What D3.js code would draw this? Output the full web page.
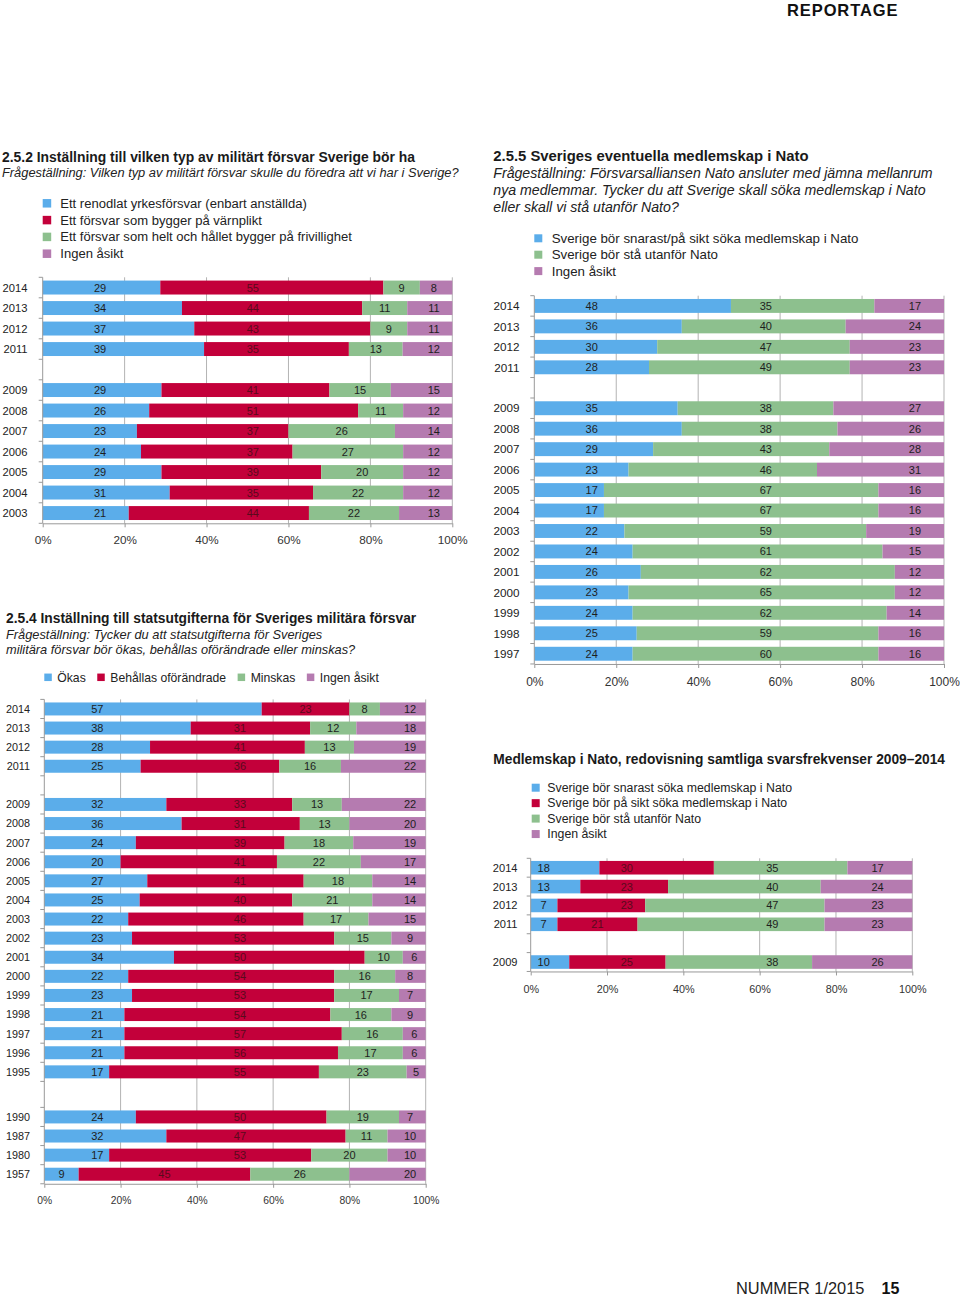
<!DOCTYPE html>
<html><head><meta charset="utf-8">
<script src="https://cdn.jsdelivr.net/npm/d3@7"></script>
<style>
body{margin:0;background:#fff}
svg{display:block}
text{font-family:"Liberation Sans",Arial,Helvetica,sans-serif}
</style>
</head><body>
<svg id="page" width="960" height="1296"></svg>
<script>
// ---------- DATA ----------
// 2.5.2
const c1Groups = [["2014","2013","2012","2011"],["2009","2008","2007","2006","2005","2004","2003"]];
const c1Keys = ["Ett renodlat yrkesförsvar (enbart anställda)","Ett försvar som bygger på värnplikt","Ett försvar som helt och hållet bygger på frivillighet","Ingen åsikt"];
const c1Yrke      = [29,34,37,39, 29,26,23,24,29,31,21];
const c1Varnplikt = [55,44,43,35, 41,51,37,37,39,35,44];
const c1Frivillig = [9,11,9,13, 15,11,26,27,20,22,22];
const c1Ingen     = [8,11,11,12, 15,12,14,12,12,12,13];

// 2.5.4
const c2Groups = [["2014","2013","2012","2011"],
  ["2009","2008","2007","2006","2005","2004","2003","2002","2001","2000","1999","1998","1997","1996","1995"],
  ["1990","1987","1980","1957"]];
const c2Keys = ["Ökas","Behållas oförändrade","Minskas","Ingen åsikt"];
const c2Okas     = [57,38,28,25, 32,36,24,20,27,25,22,23,34,22,23,21,21,21,17, 24,32,17,9];
const c2Behallas = [23,31,41,36, 33,31,39,41,41,40,46,53,50,54,53,54,57,56,55, 50,47,53,45];
const c2Minskas  = [8,12,13,16, 13,13,18,22,18,21,17,15,10,16,17,16,16,17,23, 19,11,20,26];
const c2Ingen    = [12,18,19,22, 22,20,19,17,14,14,15,9,6,8,7,9,6,6,5, 7,10,10,20];

// 2.5.5
const c3Groups = [["2014","2013","2012","2011"],
  ["2009","2008","2007","2006","2005","2004","2003","2002","2001","2000","1999","1998","1997"]];
const c3Keys = ["Sverige bör snarast/på sikt söka medlemskap i Nato","Sverige bör stå utanför Nato","Ingen åsikt"];
const c3Soka    = [48,36,30,28, 35,36,29,23,17,17,22,24,26,23,24,25,24];
const c3Utanfor = [35,40,47,49, 38,38,43,46,67,67,59,61,62,65,62,59,60];
const c3Ingen   = [17,24,23,23, 27,26,28,31,16,16,19,15,12,12,14,16,16];

// Medlemskap i Nato 2009–2014
const c4Groups = [["2014","2013","2012","2011"],["2009"]];
const c4Keys = ["Sverige bör snarast söka medlemskap i Nato","Sverige bör på sikt söka medlemskap i Nato","Sverige bör stå utanför Nato","Ingen åsikt"];
const c4Snarast = [18,13,7,7,10];
const c4Sikt    = [30,23,23,21,25];
const c4Utanfor = [35,40,47,49,38];
const c4Ingen   = [17,24,23,23,26];

const pctTicks = [0,0.2,0.4,0.6,0.8,1];

// ---------- STYLE ----------
const BLUE="#5badea", RED="#c3003a", GREEN="#8dc08e", PURPLE="#b57bb0";
const svg = d3.select("#page");
svg.append("rect").attr("width",960).attr("height",1296).attr("fill","#fff");

function txt(x,y,s,size,opts={}){
  const t = svg.append("text").attr("x",x).attr("y",y).text(s)
    .attr("font-size",size).attr("fill",opts.fill||"#1a1a1a");
  if(opts.bold) t.attr("font-weight","bold");
  if(opts.italic) t.attr("font-style","italic");
  if(opts.anchor) t.attr("text-anchor",opts.anchor);
  if(opts.ls) t.attr("letter-spacing",opts.ls);
  return t;
}

function vLegend(keys,colors,sqX,textX,y0,dy,size,sq){
  const g = svg.append("g");
  keys.forEach((k,i)=>{
    const cy = y0+i*dy;
    g.append("rect").attr("x",sqX).attr("y",cy-sq/2).attr("width",sq).attr("height",sq).attr("fill",colors[i]);
    g.append("text").attr("x",textX).attr("y",cy).attr("dy","0.35em").attr("font-size",size).attr("fill","#222").text(k);
  });
}

function hLegend(keys,colors,x0,cy,size,sq,gapText,gapItem){
  const g = svg.append("g");
  let x = x0;
  keys.forEach((k,i)=>{
    g.append("rect").attr("x",x).attr("y",cy-sq/2).attr("width",sq).attr("height",sq).attr("fill",colors[i]);
    const t = g.append("text").attr("x",x+gapText).attr("y",cy).attr("dy","0.35em").attr("font-size",size).attr("fill","#222").text(k);
    x = x+gapText+t.node().getComputedTextLength()+gapItem;
  });
}

function drawBars(cfg){
  const years = cfg.groups.flat();
  const table = years.map((yr,i)=>{const o={year:yr}; cfg.keys.forEach((k,j)=>o[k]=cfg.values[j][i]); return o;});
  const pos = []; let s = 0;
  cfg.groups.forEach((grp,gi)=>{ grp.forEach(()=>{pos.push(s); s+=1;}); if(gi<cfg.groups.length-1) s+=cfg.gaps[gi]; });
  const total = s;
  const y = d3.scaleLinear().domain([0,total]).range([cfg.top,cfg.top+total*cfg.slot]);
  const x = d3.scaleLinear().domain([0,1]).range([cfg.x0,cfg.x1]);
  const series = d3.stack().keys(cfg.keys).offset(d3.stackOffsetExpand)(table);
  const g = svg.append("g");
  const pad = (1-cfg.barFrac)/2;
  const rowIdx = new Map(years.map((yr,i)=>[yr,i]));

  // grid
  g.selectAll("line.grid").data(pctTicks.slice(1)).join("line")
    .attr("x1",d=>x(d)).attr("x2",d=>x(d)).attr("y1",y(0)).attr("y2",y(total))
    .attr("stroke","#b3b3b3").attr("stroke-width",1);

  // bars
  series.forEach((ser,j)=>{
    g.append("g").selectAll("rect").data(ser).join("rect")
      .attr("x",d=>x(d[0])).attr("width",d=>x(d[1])-x(d[0]))
      .attr("y",d=>y(pos[rowIdx.get(d.data.year)]+pad))
      .attr("height",cfg.barFrac*cfg.slot)
      .attr("fill",cfg.colors[j]);
  });
  // value labels
  series.forEach((ser,j)=>{
    const col = cfg.labelCols[j];
    g.append("g").selectAll("text").data(ser).join("text")
      .attr("x",d=>{
        const a=x(d[0]), b=x(d[1]);
        if(col!=null){ const c=x(col); if(c-a>=11 && b-c>=11) return c; }
        return (a+b)/2;
      })
      .attr("y",d=>y(pos[rowIdx.get(d.data.year)]+0.5))
      .attr("dy","0.36em").attr("text-anchor","middle")
      .attr("font-size",cfg.labelSize||11)
      .attr("fill",cfg.colors[j]===RED?"#5a0a1c":"#1e1e1e")
      .text(d=>d.data[cfg.keys[j]]);
  });

  // left axis line + ticks at row boundaries
  g.append("line").attr("x1",x(0)).attr("x2",x(0)).attr("y1",y(0)).attr("y2",y(total)).attr("stroke","#999");
  const bset = new Set();
  pos.forEach(p=>{bset.add(p); bset.add(p+1);});
  g.append("g").selectAll("line").data([...bset]).join("line")
    .attr("x1",x(0)-4).attr("x2",x(0)).attr("y1",d=>y(d)).attr("y2",d=>y(d)).attr("stroke","#999");
  // year labels
  g.append("g").selectAll("text").data(years).join("text")
    .attr("x",cfg.yearEnd).attr("y",(d,i)=>y(pos[i]+0.5)).attr("dy","0.36em")
    .attr("text-anchor","end").attr("font-size",cfg.yearSize).attr("fill","#222").text(d=>d);

  // bottom axis
  const ax = g.append("g").attr("transform",`translate(0,${y(total)})`)
    .call(d3.axisBottom(x).tickValues(pctTicks).tickFormat(d3.format(".0%")).tickSize(4).tickSizeOuter(0));
  ax.select(".domain").attr("stroke","#999");
  ax.selectAll(".tick line").attr("stroke","#999");
  ax.selectAll("text").attr("y",cfg.axisDy).attr("dy","0.36em")
    .attr("font-size",cfg.axisSize).attr("fill","#333")
    .attr("font-family","Liberation Sans, Arial, sans-serif");
}

// ---------- PAGE HEADER / FOOTER ----------
txt(787,16,"REPORTAGE",16.5,{bold:true,fill:"#111",ls:0.9});
txt(736,1294,"NUMMER 1/2015",16.4,{fill:"#222"});
txt(881.5,1294,"15",16,{bold:true,fill:"#111"});

// ---------- CHART 1 ----------
txt(2,161.8,"2.5.2 Inställning till vilken typ av militärt försvar Sverige bör ha",13.9,{bold:true});
txt(2,177.3,"Frågeställning: Vilken typ av militärt försvar skulle du föredra att vi har i Sverige?",12.85,{italic:true,fill:"#222"});
vLegend(c1Keys,[BLUE,RED,GREEN,PURPLE],42.7,60.3,203.3,16.8,13.05,8.5);
drawBars({groups:c1Groups,keys:c1Keys,values:[c1Yrke,c1Varnplikt,c1Frivillig,c1Ingen],
  colors:[BLUE,RED,GREEN,PURPLE],x0:42.7,x1:452.3,top:277.3,slot:20.5,gaps:[1],barFrac:0.68,
  yearEnd:27.5,yearSize:11.2,axisSize:11.7,axisDy:16.7,labelCols:[0.14,0.513,null,0.955]});

// ---------- CHART 2 ----------
txt(6,623.3,"2.5.4 Inställning till statsutgifterna för Sveriges militära försvar",13.8,{bold:true});
txt(6,638.6,"Frågeställning: Tycker du att statsutgifterna för Sveriges",12.8,{italic:true,fill:"#222"});
txt(6,653.9,"militära försvar bör ökas, behållas oförändrade eller minskas?",12.8,{italic:true,fill:"#222"});
hLegend(c2Keys,[BLUE,RED,GREEN,PURPLE],44.3,677.3,12.2,7.5,13,11.5);
drawBars({groups:c2Groups,keys:c2Keys,values:[c2Okas,c2Behallas,c2Minskas,c2Ingen],
  colors:[BLUE,RED,GREEN,PURPLE],x0:44.3,x1:425.7,top:699.4,slot:19.1,gaps:[1,1.36],barFrac:0.68,
  yearEnd:30,yearSize:10.8,axisSize:10.3,axisDy:16.3,labelCols:[0.139,0.513,null,0.959]});

// ---------- CHART 3 ----------
txt(493.3,160.7,"2.5.5 Sveriges eventuella medlemskap i Nato",14.85,{bold:true});
txt(493.3,178.3,"Frågeställning: Försvarsalliansen Nato ansluter med jämna mellanrum",14.15,{italic:true,fill:"#222"});
txt(493.3,195,"nya medlemmar. Tycker du att Sverige skall söka medlemskap i Nato",14.15,{italic:true,fill:"#222"});
txt(493.3,211.7,"eller skall vi stå utanför Nato?",14.15,{italic:true,fill:"#222"});
vLegend(c3Keys,[BLUE,GREEN,PURPLE],534.3,551.7,238.3,16.4,13.3,8);
drawBars({groups:c3Groups,keys:c3Keys,values:[c3Soka,c3Utanfor,c3Ingen],
  colors:[BLUE,GREEN,PURPLE],x0:534.3,x1:944,top:295.7,slot:20.46,gaps:[1],barFrac:0.68,
  yearEnd:519.5,yearSize:11.7,axisSize:12,axisDy:18,labelCols:[0.14,0.565,0.929]});

// ---------- CHART 4 ----------
txt(493.3,764,"Medlemskap i Nato, redovisning samtliga svarsfrekvenser 2009–2014",13.75,{bold:true});
vLegend(c4Keys,[BLUE,RED,GREEN,PURPLE],531.7,547.3,787.7,15.45,12.3,8);
drawBars({groups:c4Groups,keys:c4Keys,values:[c4Snarast,c4Sikt,c4Utanfor,c4Ingen],
  colors:[BLUE,RED,GREEN,PURPLE],x0:530.7,x1:912.3,top:858.3,slot:18.86,gaps:[1],barFrac:0.72,
  yearEnd:517.5,yearSize:11.1,axisSize:10.8,axisDy:17.6,labelCols:[0.034,0.252,0.633,0.909]});
</script>
</body></html>
